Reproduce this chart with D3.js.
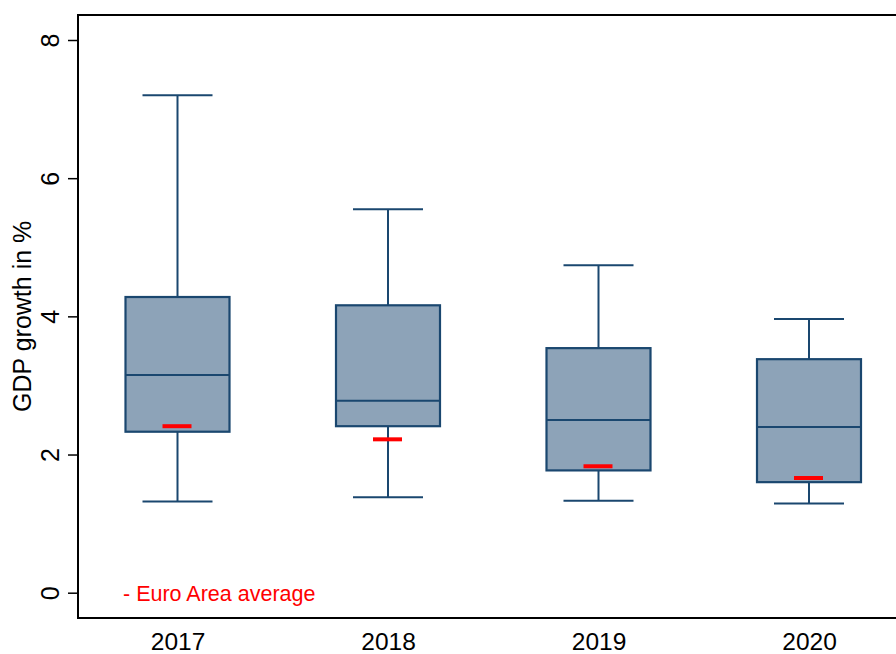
<!DOCTYPE html>
<html>
<head>
<meta charset="utf-8">
<script src="https://cdn.jsdelivr.net/npm/d3@7"></script>
<style>
  body { margin: 0; background: #fff; }
  svg { display: block; font-family: "Liberation Sans", Arial, sans-serif; }
</style>
</head>
<body>
<div id="canvas"></div>
<script>
"use strict"

/* Data: GDP growth distribution per year */
let years = ["2017", "2018", "2019", "2020"];
let whiskerLow = [1.32, 1.38, 1.33, 1.29];
let q1 = [2.33, 2.41, 1.77, 1.60];
let median = [3.15, 2.78, 2.50, 2.40];
let q3 = [4.28, 4.16, 3.54, 3.38];
let whiskerHigh = [7.20, 5.55, 4.74, 3.96];
let euroAreaAvg = [2.41, 2.22, 1.83, 1.66];
let yTicks = [0, 2, 4, 6, 8];

/* Configuration variables: drawing */
let svgWidth = 896;
let svgHeight = 654;
let plotLeft = 78;
let plotTop = 15;
let plotBottom = 618;
let boxWidth = 104;
let capWidth = 70;
let navy = "#1a476f";
let boxFill = "#8da3b8";

let svg = d3.select("#canvas")
    .append("svg")
    .attr("width", svgWidth)
    .attr("height", svgHeight);

let x = d3.scalePoint()
    .domain(years)
    .range([177.5, 809]);

let y = d3.scaleLinear()
    .domain([0, 8])
    .range([592.7, 40]);

let rows = years.map(function (yr, i) {
    return {
        year: yr, lo: whiskerLow[i], q1: q1[i], med: median[i],
        q3: q3[i], hi: whiskerHigh[i], ea: euroAreaAvg[i]
    };
});

/* Plot frame (right side runs past the window) */
svg.append("rect")
    .attr("x", plotLeft)
    .attr("y", plotTop)
    .attr("width", 900 - plotLeft)
    .attr("height", plotBottom - plotTop)
    .attr("fill", "none")
    .attr("stroke", "#000")
    .attr("stroke-width", 2);

/* Y axis */
let yAxis = svg.append("g")
    .attr("transform", "translate(" + plotLeft + ",0)")
    .call(d3.axisLeft(y).tickValues(yTicks).tickSize(10).tickFormat(d3.format("d")));
yAxis.select(".domain").remove();
yAxis.selectAll(".tick line").attr("stroke", "#000").attr("stroke-width", 1.5);
yAxis.selectAll(".tick text")
    .attr("x", 0)
    .attr("y", 0)
    .attr("dy", 0)
    .attr("transform", "translate(-19,0) rotate(-90)")
    .attr("text-anchor", "middle")
    .attr("font-size", 25)
    .attr("fill", "#000");

/* X axis labels */
let xAxis = svg.append("g")
    .attr("transform", "translate(0," + plotBottom + ")")
    .call(d3.axisBottom(x).tickSize(0).tickPadding(0));
xAxis.select(".domain").remove();
xAxis.selectAll(".tick text")
    .attr("y", 32)
    .attr("dy", 0)
    .attr("font-size", 24.5)
    .attr("fill", "#000");

/* Y axis title */
svg.append("text")
    .attr("transform", "translate(31," + y(4) + ") rotate(-90)")
    .attr("text-anchor", "middle")
    .attr("font-size", 25)
    .attr("fill", "#000")
    .text("GDP growth in %");

/* Boxes */
let boxes = svg.selectAll("g.box")
    .data(rows)
    .join("g")
    .attr("class", "box");

boxes.append("line")
    .attr("x1", d => x(d.year)).attr("x2", d => x(d.year))
    .attr("y1", d => y(d.hi)).attr("y2", d => y(d.q3))
    .attr("stroke", navy).attr("stroke-width", 2);

boxes.append("line")
    .attr("x1", d => x(d.year)).attr("x2", d => x(d.year))
    .attr("y1", d => y(d.q1)).attr("y2", d => y(d.lo))
    .attr("stroke", navy).attr("stroke-width", 2);

boxes.append("line")
    .attr("x1", d => x(d.year) - capWidth / 2).attr("x2", d => x(d.year) + capWidth / 2)
    .attr("y1", d => y(d.hi)).attr("y2", d => y(d.hi))
    .attr("stroke", navy).attr("stroke-width", 2);

boxes.append("line")
    .attr("x1", d => x(d.year) - capWidth / 2).attr("x2", d => x(d.year) + capWidth / 2)
    .attr("y1", d => y(d.lo)).attr("y2", d => y(d.lo))
    .attr("stroke", navy).attr("stroke-width", 2);

boxes.append("rect")
    .attr("x", d => x(d.year) - boxWidth / 2)
    .attr("y", d => y(d.q3))
    .attr("width", boxWidth)
    .attr("height", d => y(d.q1) - y(d.q3))
    .attr("fill", boxFill)
    .attr("stroke", navy)
    .attr("stroke-width", 2.2);

boxes.append("line")
    .attr("x1", d => x(d.year) - boxWidth / 2).attr("x2", d => x(d.year) + boxWidth / 2)
    .attr("y1", d => y(d.med)).attr("y2", d => y(d.med))
    .attr("stroke", navy).attr("stroke-width", 2);

/* Euro Area average markers */
boxes.append("line")
    .attr("x1", d => x(d.year) - 15).attr("x2", d => x(d.year) + 14)
    .attr("y1", d => y(d.ea)).attr("y2", d => y(d.ea))
    .attr("stroke", "#ff0000").attr("stroke-width", 4);

/* Note */
svg.append("text")
    .attr("x", 123)
    .attr("y", 601)
    .attr("font-size", 21.5)
    .attr("fill", "#ff0000")
    .text("- Euro Area average");
</script>
</body>
</html>
